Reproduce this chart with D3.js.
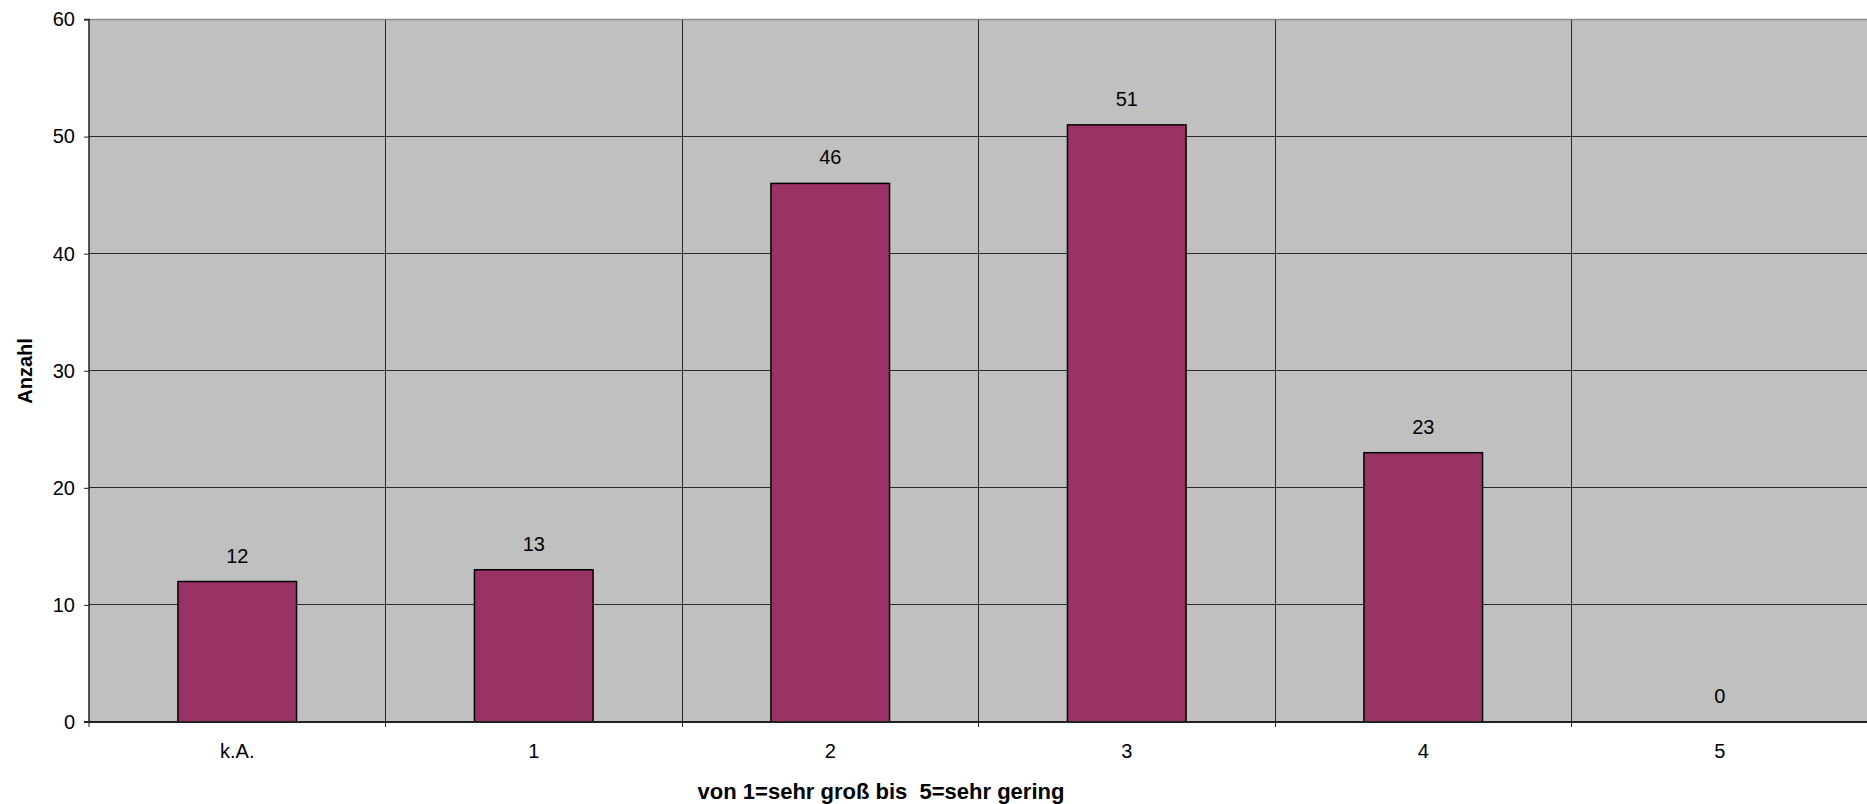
<!DOCTYPE html>
<html><head><meta charset="utf-8">
<script src="https://cdn.jsdelivr.net/npm/d3@7"></script>
<style>body{margin:0;background:#fff;}svg{display:block;font-family:Arial,"Liberation Sans",sans-serif;}</style>
</head><body>
<svg id="c" width="1867" height="804"></svg>
<script>
const categories = ["k.A.", "1", "2", "3", "4", "5"];
const values = [12, 13, 46, 51, 23, 0];
const yTicks = [0, 10, 20, 30, 40, 50, 60];
const xTitle = "von 1=sehr groß bis  5=sehr gering";
const yTitle = "Anzahl";

const svg = d3.select("#c");
const L = 89, R = 1868, T = 19.5, B = 722;
const x = d3.scaleBand().domain(categories).range([L, R]).paddingInner(0).paddingOuter(0);
const y = d3.scaleLinear().domain([0, 60]).range([B, T]);
const FS = 20;

svg.append("rect").attr("x", L).attr("y", T).attr("width", R - L).attr("height", B - T).attr("fill", "#c0c0c0");

// horizontal grid
svg.append("g").selectAll("line").data(yTicks.filter(d => d > 0 && d < 60)).join("line")
  .attr("x1", L).attr("x2", R).attr("y1", d => y(d)).attr("y2", d => y(d))
  .attr("stroke", "#2a2a2a").attr("stroke-width", 1).attr("shape-rendering", "crispEdges");
// vertical grid
svg.append("g").selectAll("line").data(categories.slice(1)).join("line")
  .attr("x1", d => x(d)).attr("x2", d => x(d)).attr("y1", T).attr("y2", B + 5)
  .attr("stroke", "#2a2a2a").attr("stroke-width", 1).attr("shape-rendering", "crispEdges");

// top border
svg.append("line").attr("x1", L).attr("x2", R).attr("y1", T).attr("y2", T)
  .attr("stroke", "#8a8a8a").attr("stroke-width", 1.5);

// bars
const bw = x.bandwidth() * 0.4;
svg.append("g").selectAll("rect").data(values).join("rect")
  .attr("x", (d, i) => x(categories[i]) + x.bandwidth() / 2 - bw / 2)
  .attr("y", d => y(d)).attr("width", bw).attr("height", d => B - y(d))
  .attr("fill", "#993366").attr("stroke", "#000").attr("stroke-width", 1.5)
  .attr("display", d => d > 0 ? null : "none");

// data labels
svg.append("g").selectAll("text").data(values).join("text")
  .attr("x", (d, i) => x(categories[i]) + x.bandwidth() / 2)
  .attr("y", d => y(d) - 19)
  .attr("text-anchor", "middle").attr("font-size", FS).attr("fill", "#000")
  .text(d => d);

// y axis
const yAxis = d3.axisLeft(y).tickValues(yTicks).tickSize(5).tickPadding(9);
const gy = svg.append("g").attr("transform", `translate(${L},0)`).call(yAxis);
gy.select(".domain").attr("stroke", "#222").attr("stroke-width", 1.5).attr("d", `M-5,${T}H0V${B}`);
gy.selectAll(".tick line").attr("stroke", "#222");
gy.selectAll(".tick text").attr("font-size", FS).attr("font-family", "Arial,'Liberation Sans',sans-serif").attr("fill", "#000");

// x axis
const xAxis = d3.axisBottom(x).tickSize(0).tickPadding(0);
const gx = svg.append("g").attr("transform", `translate(0,${B})`).call(xAxis);
gx.select(".domain").attr("stroke", "#222").attr("stroke-width", 2).attr("d", `M${L - 5},0H${R}`);
gx.selectAll(".tick text").attr("font-size", FS).attr("font-family", "Arial,'Liberation Sans',sans-serif").attr("fill", "#000")
  .attr("y", 36).attr("dy", 0);
svg.append("line").attr("x1", L).attr("x2", L).attr("y1", B).attr("y2", B + 5).attr("stroke", "#222");

// titles
svg.append("text").attr("x", 881).attr("y", 799).attr("text-anchor", "middle")
  .style("white-space", "pre").attr("xml:space", "preserve")
  .attr("font-size", 22).attr("font-weight", "bold").text(xTitle);
svg.append("text").attr("transform", "translate(32,371) rotate(-90)").attr("text-anchor", "middle")
  .attr("font-size", FS).attr("font-weight", "bold").text(yTitle);
</script>
</body></html>
